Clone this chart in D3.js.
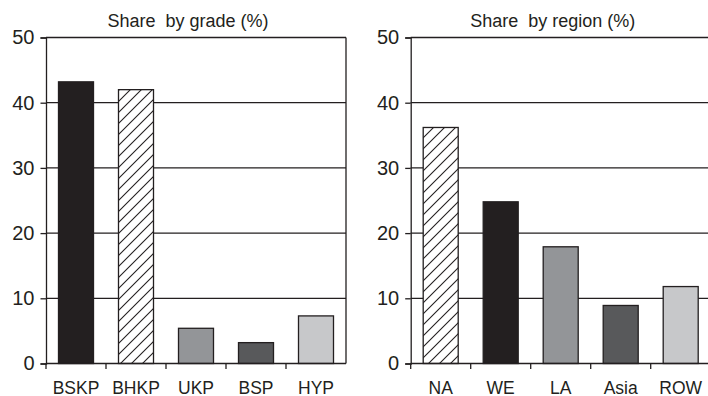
<!DOCTYPE html>
<html><head><meta charset="utf-8">
<script src="https://cdn.jsdelivr.net/npm/d3@7"></script>
<style>body{margin:0;background:#fff}svg{display:block}text{font-family:"Liberation Sans",Arial,sans-serif;fill:#231f20;white-space:pre}</style>
</head><body>
<script>
const gradeCategories = ["BSKP","BHKP","UKP","BSP","HYP"];
const gradeValues = [43.2, 42.0, 5.4, 3.2, 7.3];
const gradeFills = ["black","hatch","mid","dark","light"];
const regionCategories = ["NA","WE","LA","Asia","ROW"];
const regionValues = [36.2, 24.8, 17.9, 8.9, 11.8];
const regionFills = ["hatch","black","mid","dark","light"];
const yTicks = [0,10,20,30,40,50];
const titles = ["Share  by grade (%)","Share  by region (%)"];

const W=708,H=396, ink="#231f20";
const palette={black:"#231f20",mid:"#939598",dark:"#58595b",light:"#c7c8ca",hatch:"url(#hatch)"};
const svg=d3.select("body").append("svg").attr("width",W).attr("height",H);
const pat=svg.append("defs").append("pattern").attr("id","hatch").attr("patternUnits","userSpaceOnUse")
  .attr("width",11).attr("height",11);
pat.append("rect").attr("width",11).attr("height",11).attr("fill","#fff");
pat.append("path").attr("d","M0,11L11,0M-2,2L2,-2M9,13L13,9").attr("stroke",ink).attr("stroke-width",1.1);

const y=d3.scaleLinear().domain([0,50]).range([363.5,37.5]);

function panel(x0,cats,vals,fills,title){
  const x=d3.scaleBand().domain(cats).range([x0,x0+300]).paddingInner(25/60).paddingOuter(12.5/60);
  const g=svg.append("g");
  const step=x.step(), gap=(step-x.bandwidth())/2;
  g.selectAll("line.grid").data(yTicks.filter(d=>d>0)).join("line")
    .attr("x1",x0).attr("x2",x0+300).attr("y1",d=>y(d)).attr("y2",d=>y(d))
    .attr("stroke",ink).attr("stroke-width",1.3);
  g.append("line").attr("x1",x0+300).attr("x2",x0+300).attr("y1",y(50)).attr("y2",y(0)).attr("stroke",ink).attr("stroke-width",1.3);
  const ya=g.append("g").attr("transform",`translate(${x0},0)`).call(d3.axisLeft(y).tickValues(yTicks).tickSize(5.5).tickPadding(6).tickFormat(d3.format("d")));
  ya.select(".domain").attr("stroke",ink).attr("stroke-width",1.3);
  ya.selectAll(".tick line").attr("stroke",ink).attr("stroke-width",1.3);
  ya.selectAll("text").attr("font-size",20).style("fill",ink).attr("font-family","Liberation Sans, Arial, sans-serif");
  g.selectAll("rect.bar").data(cats).join("rect")
    .attr("x",d=>x(d)).attr("width",x.bandwidth())
    .attr("y",(d,i)=>y(vals[i])).attr("height",(d,i)=>y(0)-y(vals[i]))
    .attr("fill",(d,i)=>palette[fills[i]]).attr("stroke",ink).attr("stroke-width",1.3);
  g.append("line").attr("x1",x0).attr("x2",x0+300).attr("y1",y(0)).attr("y2",y(0)).attr("stroke",ink).attr("stroke-width",1.3);
  g.selectAll("line.xt").data(cats).join("line")
    .attr("x1",d=>x(d)-gap).attr("x2",d=>x(d)-gap).attr("y1",y(0)).attr("y2",y(0)+5.5)
    .attr("stroke",ink).attr("stroke-width",1.3);
  g.selectAll("text.xl").data(cats).join("text")
    .attr("x",d=>x(d)+x.bandwidth()/2).attr("y",393.5).attr("text-anchor","middle").attr("font-size",17.5).text(d=>d);
  g.append("text").attr("x",x0+142).attr("y",26.5).attr("text-anchor","middle").attr("font-size",18).text(title);
}
panel(46,gradeCategories,gradeValues,gradeFills,titles[0]);
panel(410.7,regionCategories,regionValues,regionFills,titles[1]);
</script>
</body></html>
